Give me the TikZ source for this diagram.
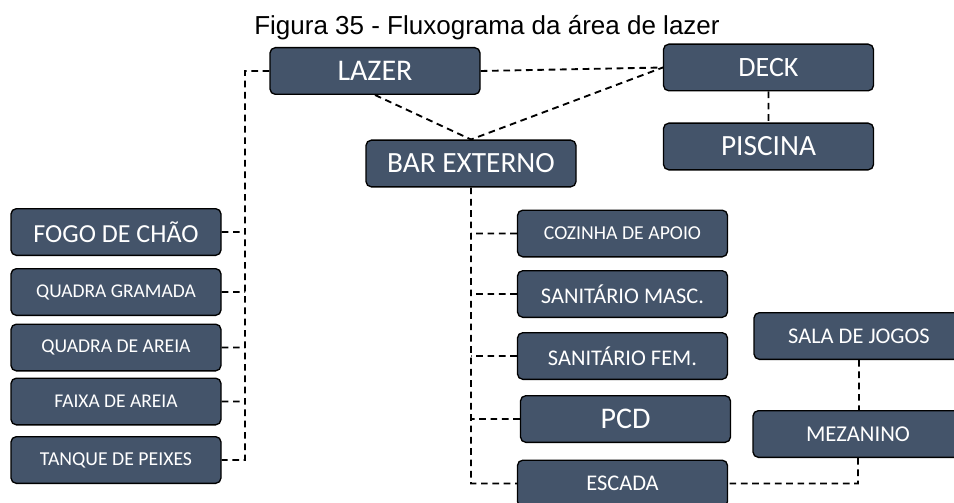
\documentclass[tikz,border=0pt]{standalone}
\usepackage{fontspec}
\setmainfont{Carlito}
\newfontfamily\titlefont{Liberation Sans}
\usetikzlibrary{positioning, calc}

\definecolor{boxslate}{RGB}{68,84,106}
\newcommand{\fsz}[1]{\fontsize{#1}{#1}\selectfont}

\tikzset{
  area/.style={draw=black, line width=1pt, fill=boxslate, rounded corners=4pt,
    text=white, minimum width=157.5pt, minimum height=35pt, inner sep=0pt,
    font=\fsz{21pt}},
  link/.style={draw=black, line width=1.4pt, dash pattern=on 5pt off 3.5pt}
}

\begin{document}
\begin{tikzpicture}[x=0.75pt, y=-0.75pt]
                        \useasboundingbox (0,0) rectangle (954,503);
                        \node[font=\titlefont\fsz{19.5pt}, anchor=base] (title) at (487, 35) {Figura 35 - Fluxograma da área de lazer};
                        % top row
                        \node[area, font=\fsz{22.5pt}] (lazer) at (375, 71) {LAZER};
                        \node[area] (deck) at (768.5, 67.5) {DECK};
                        \node[area, font=\fsz{22pt}] (piscina) at (768.5, 146.5) {PISCINA};
                        \node[area, font=\fsz{22pt}] (bar) at (471, 163.5) {BAR EXTERNO};
                        % left column
                        \node[area, font=\fsz{19.5pt}] (fogo) at (116, 232) {FOGO DE CHÃO};
                        \node[area, font=\fsz{14.6pt}] (gramada) at (116, 292) {QUADRA GRAMADA};
                        \node[area, font=\fsz{14.7pt}] (qareia) at (116, 347.5) {QUADRA DE AREIA};
                        \node[area, font=\fsz{14.6pt}] (faixa) at (116, 401.5) {FAIXA DE AREIA};
                        \node[area, font=\fsz{14.8pt}] (tanque) at (116, 460) {TANQUE DE PEIXES};
                        % bar column
                        \node[area, font=\fsz{14.8pt}] (cozinha) at (622.5, 233.5) {COZINHA DE APOIO};
                        \node[area, font=\fsz{16.8pt}] (smasc) at (622.5, 294) {SANITÁRIO MASC.};
                        \node[area, font=\fsz{16.8pt}] (sfem) at (622.5, 356) {SANITÁRIO FEM.};
                        \node[area, font=\fsz{22.5pt}] (pcd) at (625.5, 419) {PCD};
                        \node[area, font=\fsz{16.8pt}] (escada) at (622.5, 483.5) {ESCADA};
                        \node[area, font=\fsz{16.8pt}] (sala) at (859, 336) {SALA DE JOGOS};
                        \node[area, font=\fsz{17pt}] (mezanino) at (858, 434) {MEZANINO};
                        % connectors
                        \coordinate (lbus) at (245, 0);
                        \draw[link]
                        (lazer.west) -| (lbus |- tanque.east) -- (tanque.east)
                        (fogo.east) -- (fogo.east -| lbus)
                        (gramada.east) -- (gramada.east -| lbus)
                        (qareia.east) -- (qareia.east -| lbus)
                        (faixa.east) -- (faixa.east -| lbus)
                        (lazer.east) -- (deck.west)
                        (lazer.south) -- (bar.north) -- (deck.west)
                        (deck.south) -- (piscina.north)
                        (bar.south) |- (escada.west)
                        (cozinha.west) -- (cozinha.west -| bar.south)
                        (smasc.west) -- (smasc.west -| bar.south)
                        (sfem.west) -- (sfem.west -| bar.south)
                        (pcd.west) -- (pcd.west -| bar.south)
                        (sala.south) -- (sala.south |- mezanino.north)
                        (mezanino.south) |- (escada.east);
                    \end{tikzpicture}
\end{document}
